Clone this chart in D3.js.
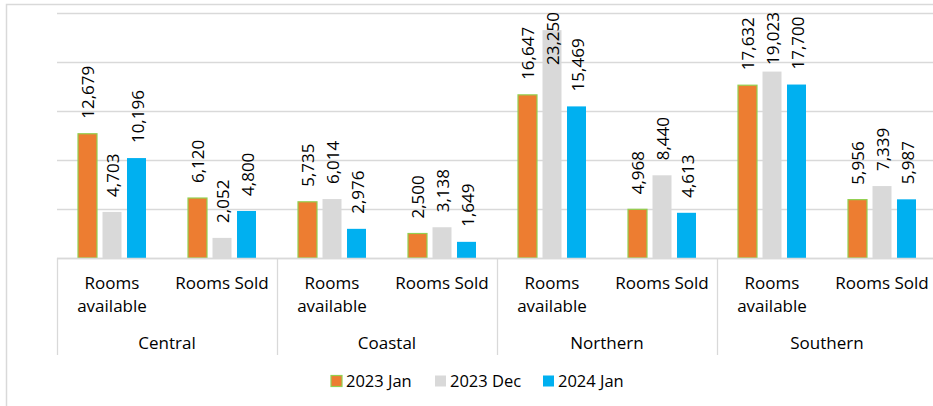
<!DOCTYPE html>
<html><head><meta charset="utf-8">
<script src="https://cdn.jsdelivr.net/npm/d3@7"></script>
<style>body{margin:0;background:#fff}svg{display:block}text{font-family:"Open Sans",sans-serif;fill:#000}</style>
</head><body><div id="c"></div>
<script>
const regions = ["Central","Coastal","Northern","Southern"];
const metrics = ["Rooms available","Rooms Sold"];
const series = ["2023 Jan","2023 Dec","2024 Jan"];
const jan2023 = [12679, 6120, 5735, 2500, 16647, 4968, 17632, 5956];
const dec2023 = [4703, 2052, 6014, 3138, 23250, 8440, 19023, 7339];
const jan2024 = [10196, 4800, 2976, 1649, 15469, 4613, 17700, 5987];
const yTicks = [0, 5000, 10000, 15000, 20000, 25000];
const colors = ["#ed7d31","#d9d9d9","#00b0f0"];

(function(){
const W=933,H=406;
const svg=d3.select("#c").append("svg").attr("width",W).attr("height",H);
svg.append("rect").attr("x",6.5).attr("y",4.5).attr("width",W+20).attr("height",H+20)
  .attr("fill","#fff").attr("stroke","#d9d9d9").attr("stroke-width",1.5);

const pLeft=57,pRight=937,pTop=13,pBottom=258;
const y=d3.scaleLinear().domain([0,25000]).range([pBottom,pTop]);
const cats=d3.range(regions.length*metrics.length);
const x=d3.scaleBand().domain(cats).range([pLeft,pRight]).padding(0);
const xs=d3.scaleBand().domain(series).range([-34,34]).paddingInner(0.2245).paddingOuter(0);
const regionX=d3.scaleBand().domain(regions).range([pLeft,pRight]).padding(0);

svg.append("g").selectAll("line").data(yTicks).join("line")
  .attr("x1",pLeft).attr("x2",pRight).attr("y1",d=>Math.round(y(d))+0.5).attr("y2",d=>Math.round(y(d))+0.5)
  .attr("stroke","#d9d9d9").attr("stroke-width",1.3);

const vals=[jan2023,dec2023,jan2024];
const data=[];
cats.forEach(c=>series.forEach((s,si)=>data.push({c,s,si,v:vals[si][c]})));

svg.append("g").selectAll("rect").data(data).join("rect")
  .attr("x",d=>x(d.c)+x.bandwidth()/2+xs(d.s))
  .attr("width",xs.bandwidth())
  .attr("y",d=>y(d.v)).attr("height",d=>y(0)-y(d.v))
  .attr("fill",d=>colors[d.si])
  .attr("stroke",d=>d.si===0?"#92d050":"none").attr("stroke-width",1.2);

const fmt=d3.format(",");
svg.append("g").selectAll("text").data(data).join("text")
  .text(d=>fmt(d.v))
  .style("font-size","17px")
  .attr("dominant-baseline","central")
  .each(function(d){
    const len=this.getComputedTextLength();
    let a=y(d.v)-15;
    if(a-len<12) a=12+len;
    const cx=x(d.c)+x.bandwidth()/2+xs(d.s)+xs.bandwidth()/2+0.5;
    d3.select(this).attr("transform",`translate(${cx},${a}) rotate(-90)`);
  });

svg.append("line").attr("x1",pLeft).attr("x2",pRight).attr("y1",pBottom+0.5).attr("y2",pBottom+0.5)
  .attr("stroke","#d9d9d9").attr("stroke-width",1.3);
const seps=regions.map(r=>regionX(r)).concat([pRight]);
svg.append("g").selectAll("line").data(seps).join("line")
  .attr("x1",d=>d+0.5).attr("x2",d=>d+0.5).attr("y1",pBottom).attr("y2",355)
  .attr("stroke","#d9d9d9").attr("stroke-width",1.3);

const mg=svg.append("g");
cats.forEach(c=>{
  const m=metrics[c%metrics.length];
  const cx=x(c)+x.bandwidth()/2;
  const words = m==="Rooms available" ? ["Rooms","available"] : [m];
  words.forEach((w,i)=>mg.append("text").attr("x",cx).attr("y",289+i*23)
    .attr("text-anchor","middle").style("font-size","17px").text(w));
});
svg.append("g").selectAll("text").data(regions).join("text")
  .attr("x",d=>regionX(d)+regionX.bandwidth()/2).attr("y",349)
  .attr("text-anchor","middle").style("font-size","17px").text(d=>d);

const legX=[331,435,543];
const lg=svg.append("g");
series.forEach((s,i)=>{
  lg.append("rect").attr("x",legX[i]).attr("y",375.5).attr("width",11).attr("height",11)
    .attr("fill",colors[i]).attr("stroke",i===0?"#92d050":"none").attr("stroke-width",1.2);
  lg.append("text").attr("x",legX[i]+15).attr("y",387).style("font-size","16.5px").text(s);
});
})();
</script></body></html>
